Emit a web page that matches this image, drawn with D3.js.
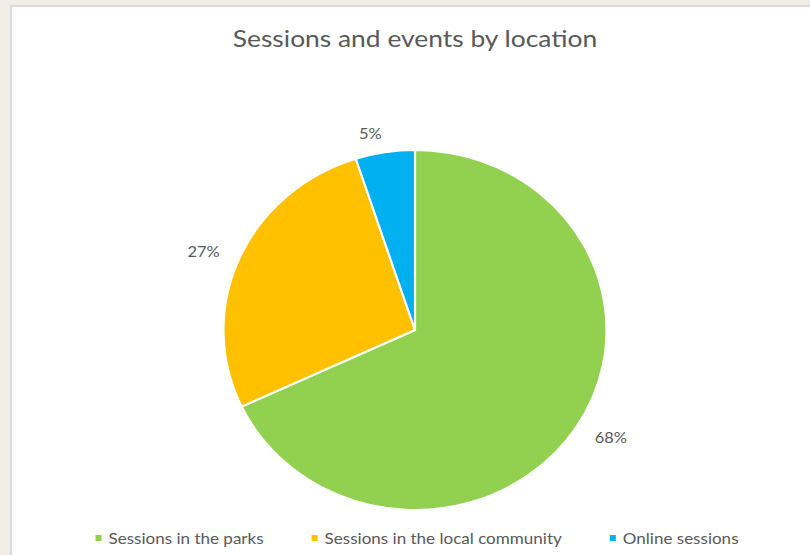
<!DOCTYPE html>
<html>
<head>
<meta charset="utf-8">
<script src="https://cdn.jsdelivr.net/npm/d3@7"></script>
<style>
  body { margin: 0; background: #f0ede6; }
  svg { display: block; }
  text { font-family: Lato, "Open Sans", sans-serif; fill: #595959; }
</style>
</head>
<body>
<svg id="chart_svg"></svg>
<script>
var viewWidth = 810;
var viewHeight = 555;

// chart data
var categories = ["Sessions in the parks", "Sessions in the local community", "Online sessions"];
var shares = [68, 27, 5];
var colors = ["#92d050", "#ffc000", "#00b0f0"];

// the source picture is a little stretched horizontally
var stretch = 191.5 / 180;
var textStretch = 1.1;

var svg = d3.select("#chart_svg")
    .attr("width", viewWidth)
    .attr("height", viewHeight);

// page background + chart frame
svg.append("rect")
    .attr("width", viewWidth).attr("height", viewHeight)
    .attr("fill", "#f0ede6");
svg.append("rect")
    .attr("x", 10).attr("y", 5)
    .attr("width", viewWidth - 10).attr("height", viewHeight - 5)
    .attr("fill", "#d9d9d9");
svg.append("rect")
    .attr("x", 12).attr("y", 7)
    .attr("width", viewWidth - 12).attr("height", viewHeight - 7)
    .attr("fill", "#ffffff");

svg.append("text")
    .attr("transform", "translate(415,37) scale(" + textStretch + ",1)")
    .attr("text-anchor", "middle")
    .attr("dominant-baseline", "central")
    .style("font-size", "24px")
    .text("Sessions and events by location");

// pie
var cx = 415, cy = 330;
var radius = 180;

var pie = d3.pie().sort(null).value(function(d) { return d; });
var arcs = pie(shares);

var arc = d3.arc().innerRadius(0).outerRadius(radius);

var pieG = svg.append("g")
    .attr("transform", "translate(" + cx + "," + cy + ") scale(" + stretch + ",1)");

pieG.selectAll("path")
    .data(arcs)
  .enter().append("path")
    .attr("d", arc)
    .attr("fill", function(d, i) { return colors[i]; })
    .attr("stroke", "#ffffff")
    .attr("stroke-width", 2)
    .attr("stroke-linejoin", "round");

// outside-end labels
var labelArc = d3.arc().innerRadius(200).outerRadius(200);

function midAngle(d) { return (d.startAngle + d.endAngle) / 2; }

svg.selectAll(".pct")
    .data(arcs)
  .enter().append("text")
    .attr("class", "pct")
    .attr("transform", function(d) {
      var c = labelArc.centroid(d);
      return "translate(" + (cx + c[0] * stretch) + "," + (cy + c[1]) + ") scale(" + textStretch + ",1)";
    })
    .attr("text-anchor", function(d) { return midAngle(d) < Math.PI ? "start" : "end"; })
    .attr("dominant-baseline", "central")
    .style("font-size", "15px")
    .text(function(d) { return d.data + "%"; });

// legend
var legend = svg.append("g");
var items = legend.selectAll("g")
    .data(categories)
  .enter().append("g");

items.append("rect")
    .attr("width", 6).attr("height", 6)
    .attr("y", -3)
    .attr("fill", function(d, i) { return colors[i]; });

items.append("text")
    .attr("transform", "translate(13,0) scale(" + textStretch + ",1)")
    .attr("dominant-baseline", "central")
    .style("font-size", "15.5px")
    .text(function(d) { return d; });

var gap = 48;
var xPos = 0;
items.each(function() {
  var w = 13 + d3.select(this).select("text").node().getComputedTextLength() * textStretch;
  d3.select(this).attr("transform", "translate(" + xPos + ",0)");
  xPos += w + gap;
});
var total = xPos - gap;
legend.attr("transform", "translate(" + (417 - total / 2) + ",538)");
</script>
</body>
</html>
